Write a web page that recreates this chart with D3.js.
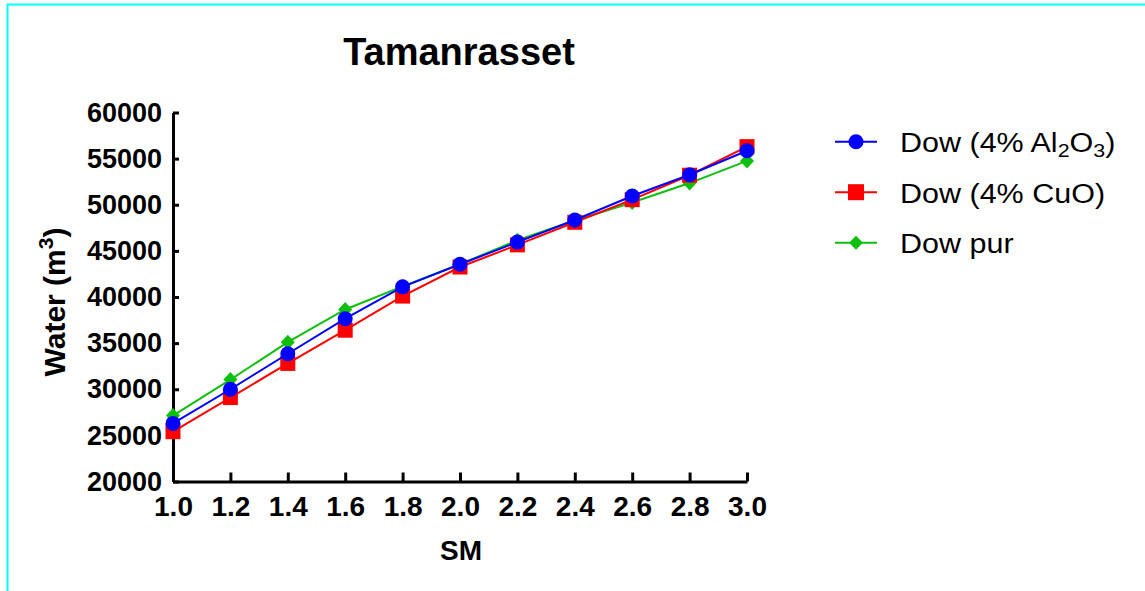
<!DOCTYPE html>
<html><head><meta charset="utf-8">
<script src="https://cdn.jsdelivr.net/npm/d3@7"></script>
<style>
html,body{margin:0;padding:0;background:#fff;}
svg{display:block;font-family:"Liberation Sans",Arial,Helvetica,sans-serif;}
</style></head>
<body>
<svg id="chart" width="1145" height="591"></svg>
<script>
const smValues = [1.0, 1.2, 1.4, 1.6, 1.8, 2.0, 2.2, 2.4, 2.6, 2.8, 3.0];
const dowAl2O3 = [26300, 30000, 33850, 37650, 41100, 43550, 45950, 48350, 50950, 53250, 55850];
const dowCuO   = [25400, 29100, 32800, 36400, 40100, 43250, 45650, 48100, 50550, 53200, 56300];
const dowPur   = [27150, 31050, 35100, 38650, 41150, 43550, 46150, 48300, 50250, 52350, 54750];
const xTicks = [1.0, 1.2, 1.4, 1.6, 1.8, 2.0, 2.2, 2.4, 2.6, 2.8, 3.0];
const yTicks = [20000, 25000, 30000, 35000, 40000, 45000, 50000, 55000, 60000];
const seriesNames = ["Dow (4% Al2O3)", "Dow (4% CuO)", "Dow pur"];

const svg = d3.select("#chart");
// cyan frame
svg.append("rect").attr("x", 7.5).attr("y", 4.5).attr("width", 1200).attr("height", 700)
  .attr("fill", "none").attr("stroke", "#00ffff").attr("stroke-width", 2);

const x = d3.scaleLinear().domain([1.0, 3.0]).range([173, 747]);
const y = d3.scaleLinear().domain([20000, 60000]).range([481.5, 112.5]);

// axes
const xAxis = svg.append("g").attr("transform", "translate(0,481.5)")
  .call(d3.axisBottom(x).tickValues(xTicks).tickFormat(d3.format(".1f")).tickSizeInner(-9).tickSizeOuter(0).tickPadding(22));
const yAxis = svg.append("g").attr("transform", "translate(173,0)")
  .call(d3.axisLeft(y).tickValues(yTicks).tickFormat(d3.format("d")).tickSizeInner(-6).tickSizeOuter(0).tickPadding(11));
[xAxis, yAxis].forEach(g => {
  g.select(".domain").attr("stroke", "#000").attr("stroke-width", 3);
  g.selectAll(".tick line").attr("stroke", "#000").attr("stroke-width", 3);
  g.selectAll(".tick text").attr("fill", "#000").attr("font-weight", "bold")
    .attr("font-family", "'Liberation Sans',Arial,sans-serif");
});
xAxis.selectAll(".tick text").attr("font-size", 28).attr("dy", null).attr("y", 34);
yAxis.selectAll(".tick text").attr("font-size", 27);

// title & labels
svg.append("text").attr("x", 459).attr("y", 65).attr("text-anchor", "middle")
  .attr("font-size", 38).attr("font-weight", "bold").text("Tamanrasset");
svg.append("text").attr("x", 461).attr("y", 560).attr("text-anchor", "middle")
  .attr("font-size", 28).attr("font-weight", "bold").text("SM");
const yl = svg.append("text").attr("transform", "translate(65,302) rotate(-90)")
  .attr("text-anchor", "middle").attr("font-size", 30).attr("font-weight", "bold");
yl.append("tspan").text("Water (m");
yl.append("tspan").attr("font-size", 21).attr("dy", -12).text("3");
yl.append("tspan").attr("dy", 12).text(")");

const series = [
  {name: seriesNames[2], values: dowPur, color: "#0fbf0f", shape: "diamond"},
  {name: seriesNames[1], values: dowCuO, color: "#ff0000", shape: "square"},
  {name: seriesNames[0], values: dowAl2O3, color: "#0000ff", shape: "circle"}
];
const shapePath = {
  circle: d3.symbol().type(d3.symbolCircle).size(Math.PI * 7.5 * 7.5)(),
  square: "M-7.5,-7.5H7.5V7.5H-7.5Z",
  diamond: "M0,-7.5L7,0L0,7.5L-7,0Z"
};
const line = d3.line().x((d, i) => x(smValues[i])).y(d => y(d));
series.forEach(s => {
  svg.append("path").datum(s.values).attr("d", line).attr("fill", "none")
    .attr("stroke", s.color).attr("stroke-width", 2);
  svg.append("g").selectAll("path").data(s.values).join("path")
    .attr("transform", (d, i) => `translate(${x(smValues[i])},${y(d)})`)
    .attr("d", shapePath[s.shape])
    .attr("fill", s.color);
});

// legend
const legendItems = [
  {color: "#0000ff", shape: "circle"},
  {color: "#ff0000", shape: "square"},
  {color: "#0fbf0f", shape: "diamond"}
];
legendItems.forEach((it, i) => {
  const cy = 141.7 + i * 50.5;
  const g = svg.append("g");
  g.append("line").attr("x1", 835).attr("x2", 877).attr("y1", cy).attr("y2", cy)
    .attr("stroke", it.color).attr("stroke-width", 2);
  if (it.shape === "circle") g.append("circle").attr("cx", 856).attr("cy", cy).attr("r", 7.5).attr("fill", it.color);
  else if (it.shape === "square") g.append("rect").attr("x", 848).attr("y", cy - 8).attr("width", 16).attr("height", 16).attr("fill", it.color);
  else g.append("path").attr("d", `M856,${cy-7}L863,${cy}L856,${cy+7}L849,${cy}Z`).attr("fill", it.color);
  const t = g.append("text").attr("transform", `translate(900,${cy + 10.5}) scale(1.13,1)`)
    .attr("font-size", 27).attr("fill", "#000");
  if (i === 0) {
    t.append("tspan").text("Dow (4% Al");
    t.append("tspan").attr("font-size", 19).attr("dy", 5).text("2");
    t.append("tspan").attr("dy", -5).text("O");
    t.append("tspan").attr("font-size", 19).attr("dy", 5).text("3");
    t.append("tspan").attr("dy", -5).text(")");
  } else {
    t.text(seriesNames[i]);
  }
});
</script>
</body></html>
